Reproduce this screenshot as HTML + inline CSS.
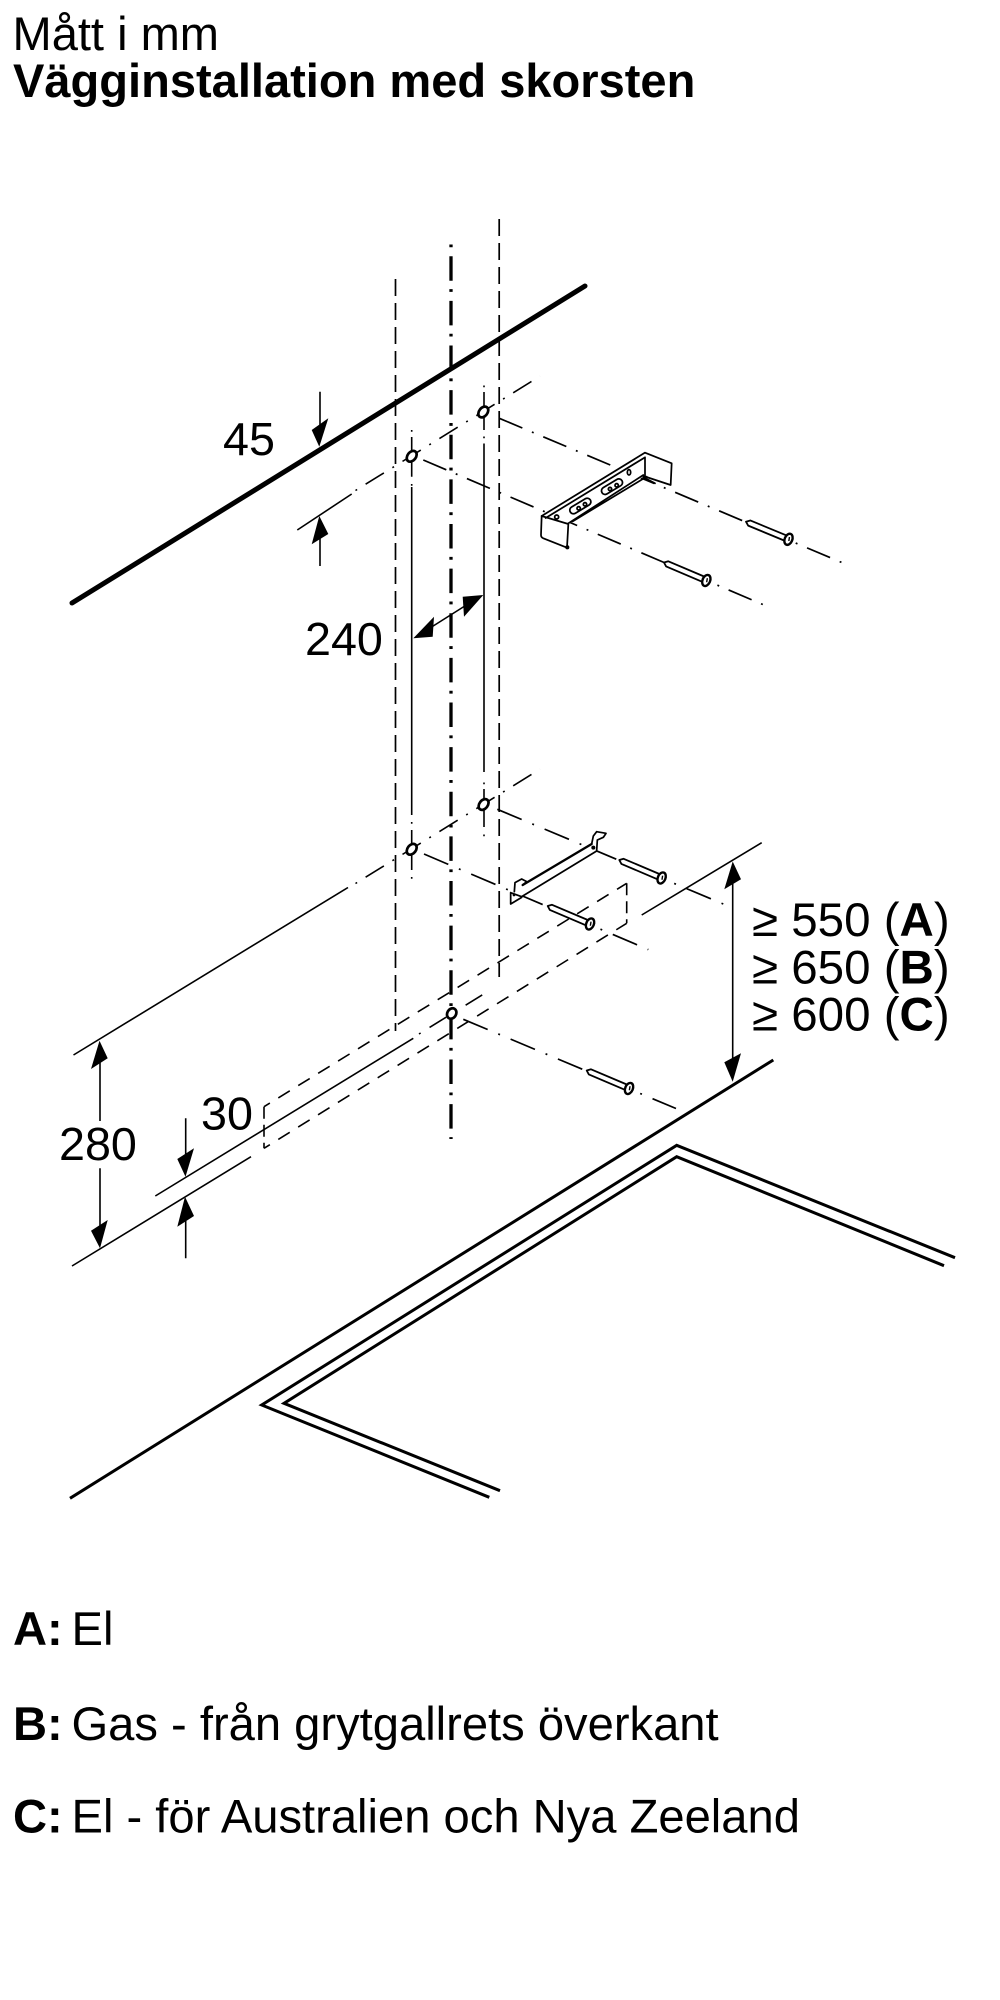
<!DOCTYPE html>
<html lang="sv">
<head>
<meta charset="utf-8">
<title>Vägginstallation med skorsten</title>
<style>
html,body{margin:0;padding:0;background:#fff;}
svg{display:block;}
text{font-family:"Liberation Sans",Arial,sans-serif;font-size:46.7px;fill:#000;}
.t{font-size:47.05px;}
.l{font-size:47.15px;}
.r{font-size:47.5px;}
.b{font-weight:bold;}
.thin{stroke:#000;stroke-width:1.6;fill:none;}
.dd1{stroke:#000;stroke-width:1.7;fill:none;stroke-dasharray:25 10.4 1.9 10.4;}
.dd2{stroke:#000;stroke-width:1.7;fill:none;stroke-dasharray:26.4 11.5 1.9 11.5;}
.iso{stroke:#000;stroke-width:1.6;fill:none;stroke-dasharray:1.9 10 21.5 10;}
.dv{stroke:#000;stroke-width:1.7;fill:none;stroke-dasharray:17 7;}
.dr{stroke:#000;stroke-width:1.6;fill:none;stroke-dasharray:13.5 9.9;stroke-dashoffset:6.6;}
.hole{fill:#fff;stroke:#000;stroke-width:2.7;}
.br{stroke:#000;stroke-width:5.2;fill:none;stroke-linejoin:round;stroke-linecap:round;}
</style>
</head>
<body>
<svg width="1000" height="2000" viewBox="0 0 1000 2000" xmlns="http://www.w3.org/2000/svg">
<defs>
<g id="screw">
<path d="M0 0L3.5 -2.8L44 -2.8L44 2.8L3.5 2.8Z" fill="#fff" stroke="#000" stroke-width="1.8" stroke-linejoin="round"/>
<ellipse cx="46" cy="0" rx="3.8" ry="5.8" fill="#fff" stroke="#000" stroke-width="2.4"/>
<path d="M46 -2.5L47 1.5" stroke="#000" stroke-width="1.4" fill="none"/>
</g>
</defs>

<text x="12.5" y="50" class="t">Mått i mm</text>
<text x="13" y="97" class="b t">Vägginstallation med skorsten</text>

<!-- verticals -->
<line class="dv" x1="395.5" y1="279" x2="395.5" y2="1031"/>
<line class="dv" x1="499.2" y1="219" x2="499.2" y2="977"/>
<line x1="451" y1="244.5" x2="451" y2="1139" stroke="#000" stroke-width="3.3" stroke-dasharray="2.8 8.9 24.5 8.43"/>

<!-- thick wall line -->
<line x1="72" y1="603" x2="585" y2="286" stroke="#000" stroke-width="5" stroke-linecap="round"/>

<!-- mounting verticals -->
<path class="thin" d="M411.7 430L411.7 431.8M411.7 437L411.7 476.7M411.7 484L411.7 485.8M411.7 487L411.7 815M411.7 822L411.7 823.8M411.7 830L411.7 870M411.7 877L411.7 878.8"/>
<path class="thin" d="M484 385.5L484 387.3M484 392L484 430M484 436.5L484 438.3M484 443.5L484 772M484 782.5L484 784.3M484 789L484 827M484 834.5L484 836.3"/>

<!-- iso axes level 1 -->
<path class="thin" d="M297.3 530L351.7 494"/>
<line class="iso" x1="355.5" y1="490.5" x2="540" y2="376.2"/>
<!-- iso axes level 2 -->
<path class="thin" d="M73.5 1055L348 887.5"/>
<line class="iso" x1="355.5" y1="883.5" x2="540" y2="769.2"/>

<!-- rear axes -->
<line class="dd1" x1="499.3" y1="418.3" x2="843" y2="563"/>
<line class="dd1" style="stroke-dasharray:25 10.25 1.9 10.25" x1="423.3" y1="460" x2="764" y2="605"/>
<line class="dd2" x1="497.3" y1="809.3" x2="724" y2="904.3"/>
<line class="dd2" x1="424" y1="854" x2="648.3" y2="949.6"/>
<line class="dd2" x1="463.3" y1="1019.3" x2="676" y2="1108.5"/>

<!-- dashed hood rectangle -->
<line class="dr" x1="264" y1="1106.7" x2="626.7" y2="883.3"/>
<line class="dr" x1="264" y1="1148.3" x2="626.7" y2="923.3"/>
<path d="M264 1106.7L264 1148.3M626.7 883.3L626.7 923.3" stroke="#000" stroke-width="1.6" fill="none" stroke-dasharray="12 6"/>

<!-- 30 dim lines -->
<path class="thin" d="M155.3 1196L413.3 1038.3"/>
<path class="thin" stroke-dasharray="1.9 10.5 19.5 10.5" d="M419 1034L487 992"/>
<path class="thin" d="M72 1266L251 1156.7M641.7 915L761.7 842.7"/>

<!-- countertop and cooktop -->
<line x1="70" y1="1498.3" x2="773.3" y2="1060" stroke="#000" stroke-width="3"/>
<polyline points="955,1257.7 676.7,1145.3 261.7,1405 489.3,1497.3" fill="none" stroke="#000" stroke-width="3"/>
<polyline points="944,1265.7 676.7,1156.7 284,1403.3 500,1490.7" fill="none" stroke="#000" stroke-width="3"/>

<!-- holes -->
<ellipse class="hole" cx="483.3" cy="412" rx="4.2" ry="6" transform="rotate(38 483.3 412)"/>
<ellipse class="hole" cx="411.7" cy="456.3" rx="4.2" ry="6" transform="rotate(38 411.7 456.3)"/>
<ellipse class="hole" cx="483.6" cy="804.5" rx="4.2" ry="6" transform="rotate(38 483.6 804.5)"/>
<ellipse class="hole" cx="411.7" cy="849.3" rx="4.2" ry="6" transform="rotate(38 411.7 849.3)"/>
<ellipse class="hole" cx="451.7" cy="1013.5" rx="4.4" ry="5.5" transform="rotate(30 451.7 1013.5)"/>

<!-- upper bracket -->
<g transform="translate(380,380) scale(0.33333)">
<polygon points="485,408 795,218 875,250 872,315 790,290 565,432 560,505 483,470" fill="#fff"/>
<path class="br" d="M485,408L795,218L875,250L872,315L790,288"/>
<path class="br" d="M497,414L795,232L795,288"/>
<path class="br" d="M565,430L790,285M578,424L800,290"/>
<path class="br" d="M485,408L565,432L561,503L490,475Q483,472 483,465L485,408"/>
<rect class="br" x="-35" y="-11" width="70" height="22" rx="11" transform="translate(601,378) rotate(-31)"/>
<rect class="br" x="-35" y="-11" width="70" height="22" rx="11" transform="translate(696,320) rotate(-31)"/>
<circle class="br" cx="596" cy="385" r="5"/><circle class="br" cx="615" cy="373" r="5"/>
<circle class="br" cx="690" cy="327" r="5"/><circle class="br" cx="710" cy="316" r="5"/>
<circle class="br" cx="530" cy="411" r="6"/><ellipse class="br" cx="747" cy="277" rx="5" ry="8"/>
<circle class="br" cx="562" cy="502" r="3.5"/>
<path class="br" d="M790,292L825,310"/>
</g>

<!-- lower bracket -->
<g transform="translate(480,780) scale(0.33333)">
<polygon points="92,335 120,298 335,190 350,212 125,352 92,372" fill="#fff"/>
<path class="br" style="stroke-width:7" d="M128,315L335,192"/>
<path class="br" d="M125,350L350,213"/>
<path class="br" d="M92,338L92,372L125,352M92,338L125,350M103,335L105,308L125,297L140,305L128,315"/>
<path class="br" d="M335,192L340,168L350,155L378,160L370,172L352,180L350,212"/>
<circle cx="340" cy="203" r="6" fill="#000"/><circle cx="102" cy="345" r="4" fill="#000"/>
</g>

<!-- screws -->
<use href="#screw" transform="translate(746,521.7) rotate(22.5)"/>
<use href="#screw" transform="translate(664,562.5) rotate(23)"/>
<use href="#screw" transform="translate(619.3,860) rotate(23)"/>
<use href="#screw" transform="translate(547.7,906) rotate(23)"/>
<use href="#screw" transform="translate(586.7,1070.5) rotate(23)"/>

<!-- 45 arrows -->
<path class="thin" d="M320 391.7L320 430M320 534L320 566"/>
<polygon points="319.3,446.7 311.7,430 328.3,418.3"/>
<polygon points="319.3,516 311.7,544.3 328.3,534"/>
<text x="223" y="455">45</text>

<!-- 240 arrow -->
<line class="thin" x1="430" y1="628" x2="468" y2="604"/>
<polygon points="413.3,638.3 434,616.7 432.7,636.7"/>
<polygon points="483.3,595 462.7,596.7 464,616.7"/>
<text x="305" y="655">240</text>

<!-- 280 -->
<path class="thin" d="M100 1058L100 1121M100 1168.3L100 1230"/>
<polygon points="99.5,1040.7 91,1069 107.7,1058.3"/>
<polygon points="100,1248.3 91,1230.7 107.7,1220"/>
<text x="59" y="1160">280</text>

<!-- 30 -->
<path class="thin" d="M185.7 1118.3L185.7 1160M185.7 1216L185.7 1258.3"/>
<polygon points="185.5,1176.7 177.3,1159 194,1148.3"/>
<polygon points="185,1196.7 177.3,1226.7 194,1216"/>
<text x="201" y="1129.5">30</text>

<!-- 550 -->
<line class="thin" x1="732.7" y1="880" x2="732.7" y2="1062"/>
<polygon points="732.7,861.5 724.3,889.3 741,879.3"/>
<polygon points="732.7,1081.7 724.3,1062.3 741,1053.3"/>
<text x="752" y="936" class="r">≥ 550 (<tspan class="b">A</tspan>)</text>
<text x="752" y="983.3" class="r">≥ 650 (<tspan class="b">B</tspan>)</text>
<text x="752" y="1030.7" class="r">≥ 600 (<tspan class="b">C</tspan>)</text>

<!-- legend -->
<text x="13" y="1645" class="b l">A:</text><text x="71.5" y="1645" class="l">El</text>
<text x="13" y="1740" class="b l">B:</text><text x="71.5" y="1740" class="l">Gas - från grytgallrets överkant</text>
<text x="13" y="1832.4" class="b l">C:</text><text x="71.5" y="1832.4" class="l">El - för Australien och Nya Zeeland</text>
</svg>
</body>
</html>
